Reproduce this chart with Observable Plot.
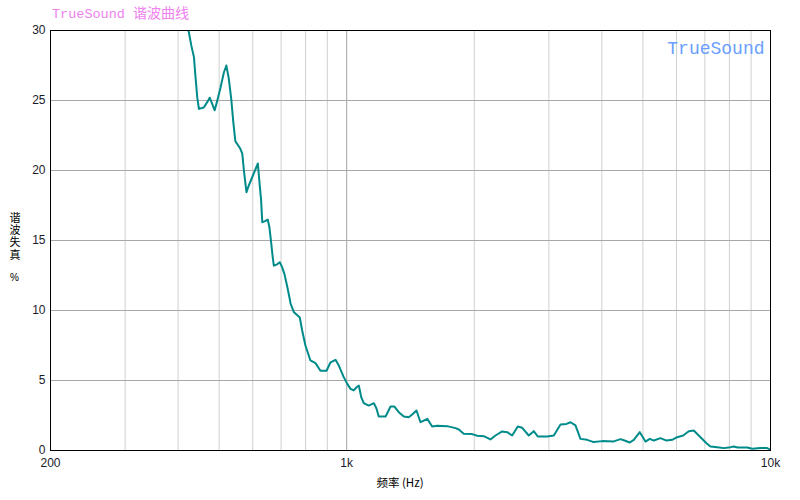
<!DOCTYPE html>
<html>
<head>
<meta charset="utf-8">
<script src="https://cdn.jsdelivr.net/npm/d3@7"></script>
<script src="https://cdn.jsdelivr.net/npm/@observablehq/plot@0.6"></script>
<style>
  html, body { margin: 0; padding: 0; background: #fff; }
  #wrap { position: relative; width: 800px; height: 500px; overflow: hidden; }
  .title { position: absolute; left: 52px; top: 2px; color: #ee82ee; white-space: nowrap; }
  .title .en { font-family: "Liberation Mono", "DejaVu Sans Mono", monospace; font-size: 13.5px; }
  .title .zh { font-family: "Noto Sans CJK SC", sans-serif; font-size: 14px; }
  .ylab { position: absolute; left: 8px; top: 212px; writing-mode: vertical-rl; text-orientation: upright;
          font-family: "Noto Sans CJK SC", sans-serif; font-size: 11px; letter-spacing: 1.3px; line-height: 14px; color: #000; }
  .pct { position: absolute; left: 10px; top: 272px; font-family: "Liberation Sans", Arial, sans-serif; font-size: 10px; line-height: 12px; color: #000; }
  .xlab { position: absolute; left: 0; width: 800px; top: 474px; text-align: center; font-family: "Noto Sans CJK SC", sans-serif; font-size: 11.5px; color: #000; }
</style>
</head>
<body>
<div id="wrap">
  <div id="chart"></div>
  <div class="title"><span class="en">TrueSound </span><span class="zh">谐波曲线</span></div>
  <div class="ylab">谐波失真</div>
  <div class="pct">%</div>
  <div class="xlab">频率 (Hz)</div>
</div>
<script>
// Frequency (Hz) and THD (%)
const freqs = [412, 424, 430, 436, 440, 444, 448, 460, 469, 475, 481, 488, 495, 504, 513, 520, 527, 534, 540, 546,
  561, 567, 572, 580, 587, 598, 617, 624, 628, 632, 643, 651, 657, 663, 669, 673, 685, 695, 704, 713,
  724, 734, 737, 750, 775, 785, 799, 821, 844, 867, 896, 916, 941, 958, 984, 1003, 1021, 1039, 1055, 1068,
  1082, 1097, 1127, 1159, 1176, 1190, 1235, 1269, 1296, 1327, 1364, 1401, 1427, 1461, 1493, 1520, 1549, 1591, 1635, 1726,
  1806, 1839, 1889, 1977, 2032, 2106, 2184, 2244, 2327, 2392, 2457, 2533, 2595, 2689, 2763, 2824, 2972, 3081, 3195, 3301,
  3373, 3466, 3561, 3693, 3828, 4007, 4268, 4426, 4523, 4655, 4758, 4915, 5070, 5190, 5304, 5500, 5683, 5861, 6023, 6222,
  6415, 6591, 6836, 7062, 7217, 7485, 7758, 8046, 8191, 8371, 8810, 9053, 9470, 9821, 10000];
const thd = [31.0, 29.9, 28.9, 28.1, 26.6, 25.2, 24.4, 24.5, 24.9, 25.2, 24.8, 24.3, 25.0, 25.95, 27.0, 27.5, 26.55, 25.1, 23.45, 22.1,
  21.55, 21.2, 20.0, 18.45, 18.9, 19.5, 20.5, 18.8, 17.9, 16.3, 16.4, 16.5, 15.95, 14.9, 13.8, 13.2, 13.3, 13.45, 13.1, 12.6,
  11.7, 10.8, 10.5, 9.9, 9.5, 8.57, 7.5, 6.43, 6.24, 5.7, 5.7, 6.3, 6.48, 6.07, 5.24, 4.76, 4.4, 4.29, 4.52, 4.64,
  3.81, 3.38, 3.21, 3.38, 2.98, 2.43, 2.43, 3.14, 3.14, 2.74, 2.43, 2.38, 2.57, 2.86, 2.02, 2.14, 2.26, 1.71, 1.76, 1.74,
  1.6, 1.5, 1.19, 1.17, 1.05, 1.02, 0.79, 1.07, 1.36, 1.31, 1.07, 1.71, 1.62, 1.07, 1.38, 1.0, 1.0, 1.07, 1.86, 1.9,
  2.02, 1.79, 0.83, 0.76, 0.6, 0.67, 0.65, 0.81, 0.71, 0.57, 0.76, 1.31, 0.64, 0.83, 0.71, 0.88, 0.71, 0.76, 0.95, 1.07,
  1.38, 1.43, 0.95, 0.52, 0.29, 0.24, 0.17, 0.24, 0.29, 0.21, 0.21, 0.12, 0.17, 0.17, 0.05];

const xTickValues = [200, 1000, 10000];
const xTickLabels = ["200", "1k", "10k"];
const yTickValues = [0, 5, 10, 15, 20, 25, 30];
const minorGridFreqs = [300, 400, 500, 600, 700, 800, 900, 2000, 3000, 4000, 5000, 6000, 7000, 8000, 9000];
const majorGridFreqs = [1000];
const yGridValues = [5, 10, 15, 20, 25];
const watermark = ["TrueSound"];

const data = freqs.map((f, i) => ({f, v: thd[i]}));
const labelOf = new Map(xTickValues.map((v, i) => [v, xTickLabels[i]]));

const chart = Plot.plot({
  width: 800,
  height: 500,
  marginLeft: 50,
  marginRight: 30,
  marginTop: 30,
  marginBottom: 50,
  style: {fontFamily: "Liberation Sans, Arial, sans-serif", fontSize: "12px", background: "white", color: "#1a1a2a"},
  x: {type: "log", domain: [200, 10000]},
  y: {domain: [0, 30]},
  marks: [
    Plot.ruleX(minorGridFreqs, {stroke: "#d0d0d0", strokeWidth: 1}),
    Plot.ruleX(majorGridFreqs, {stroke: "#a4a4a4", strokeWidth: 1}),
    Plot.ruleY(yGridValues, {stroke: "#a8a8a8", strokeWidth: 1}),
    Plot.line(data, {x: "f", y: "v", stroke: "#008b8b", strokeWidth: 2, clip: true}),
    Plot.frame({stroke: "black"}),
    Plot.axisX(xTickValues, {tickSize: 0, tickPadding: 8, tickFormat: d => labelOf.get(d), label: null}),
    Plot.axisY(yTickValues, {tickSize: 0, tickPadding: 5, label: null}),
    Plot.text(watermark, {frameAnchor: "top-right", dx: -6, dy: 11, text: d => d, fill: "#6a9eff",
      fontFamily: "Liberation Mono, DejaVu Sans Mono, monospace", fontSize: 18, textAnchor: "end"})
  ]
});
document.getElementById("chart").appendChild(chart);
</script>
</body>
</html>
